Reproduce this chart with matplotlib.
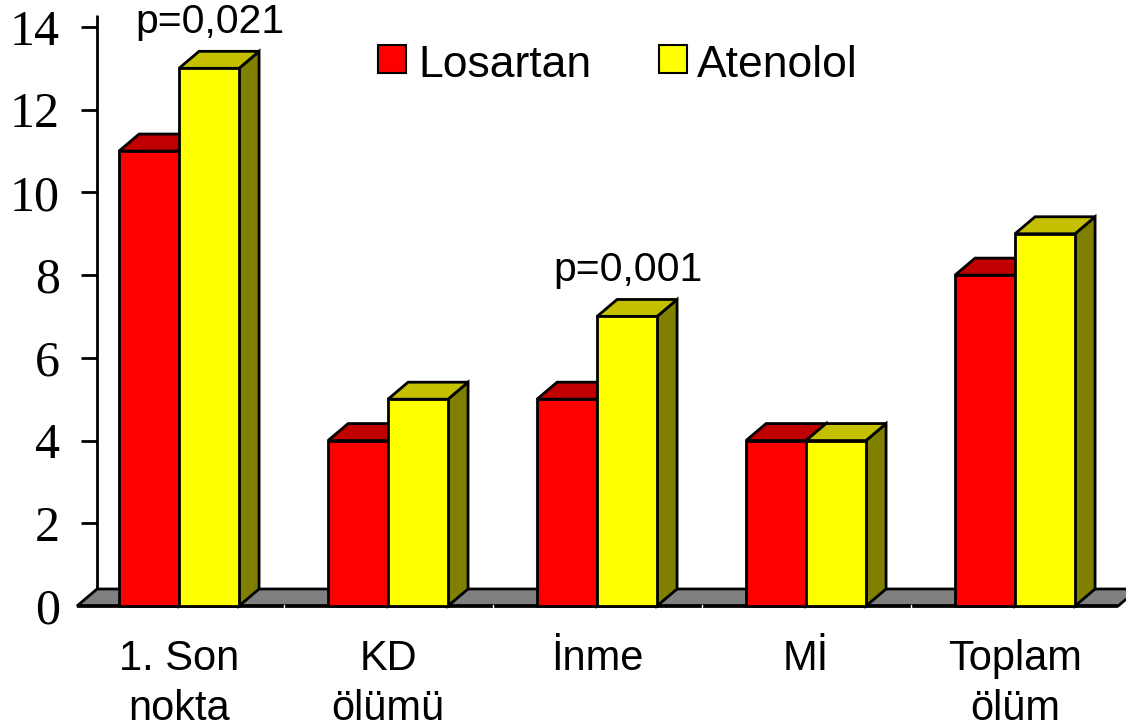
import matplotlib
matplotlib.use("Agg")
import matplotlib.pyplot as plt
from matplotlib.patches import Polygon, Rectangle

# Outcome rates (%) by treatment arm
categories = ["1. Son\nnokta", "KD\nölümü", "İnme", "Mİ", "Toplam\nölüm"]
losartan = [11, 4, 5, 4, 8]
atenolol = [13, 5, 7, 4, 9]
series_names = ["Losartan", "Atenolol"]
y_ticks = [0, 2, 4, 6, 8, 10, 12, 14]
p_values = {0: "p=0,021", 2: "p=0,001"}

# Colours: front, top, side faces
RED = ("#FF0000", "#C00000", "#800000")
YELLOW = ("#FFFF00", "#C4C000", "#808000")
FLOOR = "#808080"

SANS = "Liberation Sans"
SERIF = "Liberation Serif"

W, H = 1126, 728
fig = plt.figure(figsize=(W / 100, H / 100), dpi=100)
ax = fig.add_axes([0, 0, 1, 1])
ax.set_xlim(-0.8565, 4.531)
ax.set_ylim(-2.950, 14.652)
ax.axis("off")

bar_w = 0.287   # width of one bar (category units)
dx = 0.096      # depth offset, x
dy = 0.411      # depth offset, y (value units)
floor_left, floor_right = -0.488, 4.493
axis_x = floor_left + dx
lw = 2.0

# value axis line, ticks and labels
ax.plot([axis_x, axis_x], [dy, 14.29], color="black", lw=2.0, zorder=1,
        solid_capstyle="butt")
for t in y_ticks:
    if t > 0:
        ax.plot([axis_x - 0.078, axis_x], [t, t], color="black", lw=2.0,
                zorder=1, solid_capstyle="butt")
    ax.text(-0.569, t, str(t), ha="right", va="center_baseline",
            fontsize=36, family=SERIF, zorder=1)

# floor
floor = Polygon([(floor_left, 0), (floor_right, 0),
                 (floor_right + dx, dy), (floor_left + dx, dy)],
                closed=True, fc=FLOOR, ec="black", lw=lw, zorder=2,
                joinstyle="miter")
ax.add_patch(floor)
ax.plot([floor_left, floor_right], [0, 0], color="black", lw=2.6, zorder=2.1,
        solid_capstyle="butt")
for i in range(len(categories) - 1):
    ax.plot([i + 0.5, i + 0.5], [-0.05, 0.03], color="white", lw=1.0,
            zorder=2.2)


def bar3d(x0, v, colors, z):
    front, top, side = colors
    side_poly = Polygon([(x0 + bar_w, 0), (x0 + bar_w + dx, dy),
                         (x0 + bar_w + dx, v + dy), (x0 + bar_w, v)],
                        closed=True, fc=side, ec="black", lw=lw, zorder=z,
                        joinstyle="miter")
    top_poly = Polygon([(x0, v), (x0 + dx, v + dy),
                        (x0 + bar_w + dx, v + dy), (x0 + bar_w, v)],
                       closed=True, fc=top, ec="black", lw=lw, zorder=z,
                       joinstyle="miter")
    front_rect = Rectangle((x0, 0), bar_w, v, fc=front, ec="black", lw=lw,
                           zorder=z, joinstyle="miter")
    for p in (side_poly, top_poly, front_rect):
        ax.add_patch(p)


for i, (a, b) in enumerate(zip(losartan, atenolol)):
    bar3d(i - bar_w, a, RED, 3 + i * 0.1)
    bar3d(i, b, YELLOW, 3.05 + i * 0.1)

# category labels, one text per line
line_gap = 1.209
for i, label in enumerate(categories):
    for k, line in enumerate(label.split("\n")):
        ax.text(i, -1.547 - k * line_gap, line, ha="center", va="baseline",
                fontsize=30, family=SANS)

# significance labels above the atenolol bars
for i, txt in p_values.items():
    ax.text(i + 0.15, atenolol[i] + dy + 0.45, txt, ha="center",
            va="baseline", fontsize=29.5, family=SANS, zorder=5)

# legend
for name, colors, sx, tx in zip(series_names, (RED, YELLOW), (378, 659),
                                (418, 697)):
    fig.add_artist(Rectangle((sx / W, 1 - 73 / H), 28 / W, 28 / H,
                             transform=fig.transFigure, fc=colors[0],
                             ec="black", lw=1.5))
    fig.text(tx / W, 1 - 77 / H, name, ha="left", va="baseline",
             fontsize=32, family=SANS)

fig.savefig("out.png", dpi=100)
